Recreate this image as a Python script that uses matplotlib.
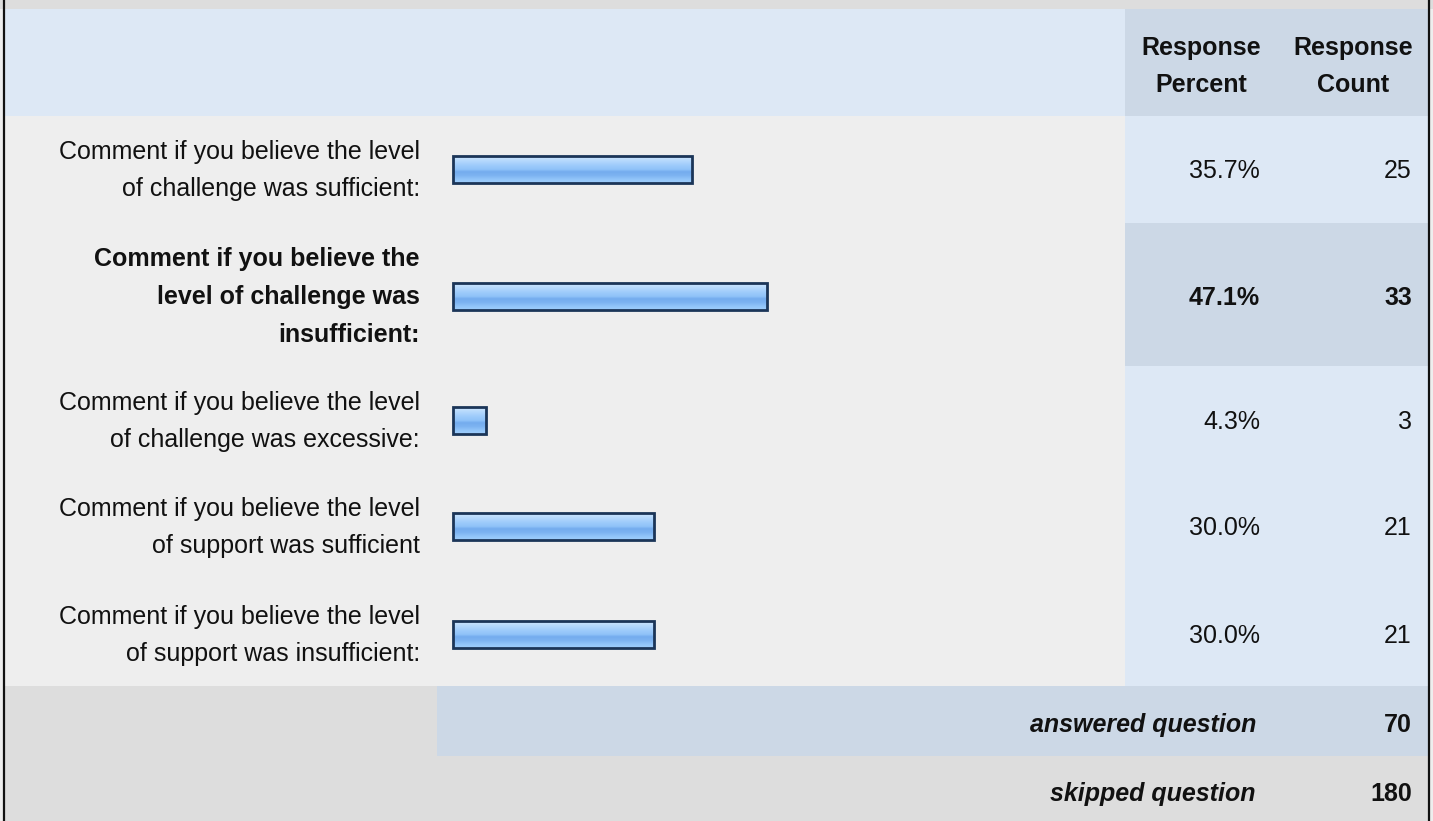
import matplotlib.pyplot as plt
import numpy as np
from matplotlib.patches import Rectangle
from matplotlib.colors import LinearSegmentedColormap

plt.rcParams['font.family'] = ['Liberation Sans', 'DejaVu Sans']

# survey data
labels = [
    ['Comment if you believe the level', 'of challenge was sufficient:'],
    ['Comment if you believe the', 'level of challenge was', 'insufficient:'],
    ['Comment if you believe the level', 'of challenge was excessive:'],
    ['Comment if you believe the level', 'of support was sufficient'],
    ['Comment if you believe the level', 'of support was insufficient:'],
]
percent = [35.7, 47.1, 4.3, 30.0, 30.0]
count = [25, 33, 3, 21, 21]
highlight = 1
answered = 70
skipped = 180

# layout in pixels (figure is 1433 x 821)
W, H = 1433, 821
row_top = [116, 223, 366, 475, 580]
row_bot = [223, 366, 475, 580, 686]
row_mid = [170, 297, 421, 527, 635]
col_bar = 437
col_pct = 1125
bar_x0 = 453
px_per_pct = 6.55

fs = 18
light_blue = '#dde8f5'
mid_blue = '#ccd8e6'
grey = '#dddddd'
body = '#eeeeee'
ink = '#111111'

fig = plt.figure(figsize=(W / 100, H / 100), dpi=100)
fig.patch.set_facecolor(body)
ax = fig.add_axes([0, 0, 1, 1])
ax.set_facecolor(body)

def box(x0, y0, x1, y1, c):
    ax.add_patch(Rectangle((x0, y0), x1 - x0, y1 - y0, facecolor=c, edgecolor='none', zorder=0))

# backgrounds
box(0, 0, W, 9, grey)
box(5, 9, col_pct, 116, light_blue)
box(col_pct, 9, 1429, 116, mid_blue)
box(5, 116, col_pct, 686, body)
for i in range(len(percent)):
    box(col_pct, row_top[i], 1429, row_bot[i], mid_blue if i == highlight else light_blue)
box(5, 686, col_bar, 756, grey)
box(col_bar, 686, 1429, 756, mid_blue)
box(5, 756, 1429, H, grey)

# frame lines
ax.plot([4, 4], [0, H], color=ink, lw=1.6, zorder=5, solid_capstyle='butt')
ax.plot([1429.5, 1429.5], [0, H], color=ink, lw=1.6, zorder=5, solid_capstyle='butt')

# header
for cx, words in [(1201, ['Response', 'Percent']), (1353, ['Response', 'Count'])]:
    ax.text(cx, 55, words[0], ha='center', va='baseline', fontsize=fs, fontweight='bold', color=ink)
    ax.text(cx, 92, words[1], ha='center', va='baseline', fontsize=fs, fontweight='bold', color=ink)

# row labels and values
for i, lines in enumerate(labels):
    bold = 'bold' if i == highlight else 'normal'
    if len(lines) == 3:
        offs = [-31, 7, 45]
    else:
        offs = [-11, 26]
    for line, o in zip(lines, offs):
        ax.text(420, row_mid[i] + o, line, ha='right', va='baseline', fontsize=fs,
                fontweight=bold, color=ink)
    ax.text(1260, row_mid[i] + 8, f'{percent[i]:.1f}%', ha='right', va='baseline',
            fontsize=fs, fontweight=bold, color=ink)
    ax.text(1412, row_mid[i] + 8, str(count[i]), ha='right', va='baseline',
            fontsize=fs, fontweight=bold, color=ink)

# gradient bars
cmap = LinearSegmentedColormap.from_list('bar', [
    (0.0, '#cfe6fd'), (0.15, '#b8dafd'), (0.35, '#9dcbfb'), (0.5, '#8fc2f8'),
    (0.58, '#74acee'), (0.72, '#7cb3f1'), (0.88, '#93c6fa'), (1.0, '#a0cefb')])
grad = np.linspace(0, 1, 64).reshape(-1, 1)
widths = np.array(percent) * px_per_pct + 5
bar_h = 27
bars = ax.barh(row_mid, widths, left=bar_x0, height=bar_h, color='none',
               edgecolor='#1b3558', linewidth=2.0, zorder=3)
for b in bars:
    x, y = b.get_x(), b.get_y()
    im = ax.imshow(grad, cmap=cmap, extent=[x, x + b.get_width(), y + bar_h, y],
                   aspect='auto', zorder=2, interpolation='bilinear')
    im.set_clip_path(b)

# footer
ax.text(1256, 732, 'answered question', ha='right', va='baseline', fontsize=fs,
        fontweight='bold', fontstyle='italic', color=ink)
ax.text(1412, 732, str(answered), ha='right', va='baseline', fontsize=fs,
        fontweight='bold', color=ink)
ax.text(1256, 801, 'skipped question', ha='right', va='baseline', fontsize=fs,
        fontweight='bold', fontstyle='italic', color=ink)
ax.text(1412, 801, str(skipped), ha='right', va='baseline', fontsize=fs,
        fontweight='bold', color=ink)

ax.set_xlim(0, W)
ax.set_ylim(H, 0)
ax.axis('off')
fig.savefig('out.png', dpi=100, facecolor=fig.get_facecolor())
